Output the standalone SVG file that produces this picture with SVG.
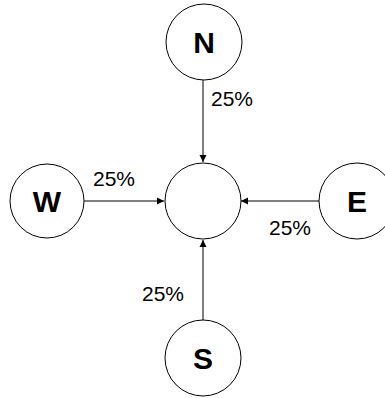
<svg xmlns="http://www.w3.org/2000/svg" width="385" height="398" viewBox="0 0 385 398">
  <defs>
    <marker id="arrow" viewBox="0 0 10 10" refX="10" refY="5" markerWidth="7" markerHeight="8" markerUnits="userSpaceOnUse" orient="auto">
      <path d="M0,0 L10,5 L0,10 z" fill="#000"/>
    </marker>
    <style>
      .node { fill: #fff; stroke: #000; stroke-width: 1; }
      .letter { font-family: "Liberation Sans", Arial, sans-serif; font-weight: bold; font-size: 30px; text-anchor: middle; fill: #000; }
      .pct { font-family: "Liberation Sans", Arial, sans-serif; font-size: 21px; fill: #000; }
      .edge { stroke: #000; stroke-width: 1; fill: none; marker-end: url(#arrow); }
    </style>
  </defs>
  <rect width="385" height="398" fill="#fff"/>
  <g id="connectors">
    <line class="edge" x1="203" y1="80" x2="203" y2="162"/>
    <line class="edge" x1="84" y1="201" x2="164" y2="201"/>
    <line class="edge" x1="319" y1="201" x2="241" y2="201"/>
    <line class="edge" x1="203" y1="320" x2="203" y2="240"/>
    <text class="pct" x="211" y="106">25%</text>
    <text class="pct" x="93" y="186">25%</text>
    <text class="pct" x="269" y="235">25%</text>
    <text class="pct" x="142" y="301">25%</text>
  </g>
  <g id="center">
    <circle class="node" cx="203" cy="201" r="38"/>
  </g>
  <g id="north">
    <circle class="node" cx="204" cy="42" r="38"/>
    <text class="letter" x="204" y="53">N</text>
  </g>
  <g id="west">
    <circle class="node" cx="47" cy="201" r="37"/>
    <text class="letter" x="47" y="212">W</text>
  </g>
  <g id="east">
    <circle class="node" cx="357" cy="201" r="38"/>
    <text class="letter" x="357" y="212">E</text>
  </g>
  <g id="south">
    <circle class="node" cx="203" cy="358" r="38"/>
    <text class="letter" x="203" y="369">S</text>
  </g>
</svg>
